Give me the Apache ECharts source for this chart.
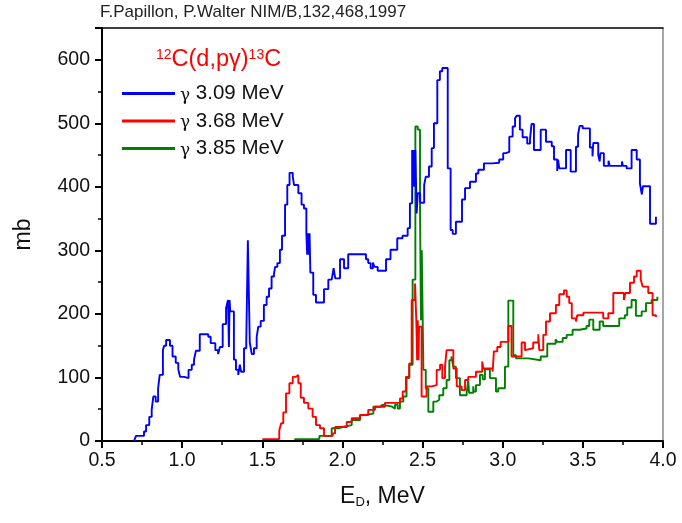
<!DOCTYPE html>
<html>
<head>
<meta charset="utf-8">
<script src="https://cdn.jsdelivr.net/npm/echarts@6/dist/echarts.min.js"></script>
<style>
  html, body { margin: 0; padding: 0; background: #fff; }
  #chart { width: 682px; height: 523px; }
</style>
</head>
<body>
<div id="chart"></div>
<script>
// Gamma-ray yields for 12C(d,p gamma)13C, step histograms (E_D in MeV, yield in mb)
const seriesNames = ['γ 3.09 MeV', 'γ 3.68 MeV', 'γ 3.85 MeV'];

const blueE = [0.70,0.712,0.762,0.775,0.795,0.81,0.82,0.835,0.85,0.86,0.88,0.887,0.90,0.924,0.94,0.96,0.976,0.987,1.013,1.04,1.06,1.074,1.086,1.11,1.163,1.178,1.207,1.224,1.236,1.253,1.274,1.286,1.292,1.296,1.30,1.323,1.336,1.35,1.36,1.368,1.386,1.40,1.41,1.422,1.434,1.448,1.465,1.475,1.49,1.51,1.527,1.542,1.558,1.573,1.58,1.594,1.61,1.623,1.642,1.656,1.670,1.69,1.698,1.725,1.745,1.76,1.775,1.78,1.785,1.79,1.795,1.80,1.818,1.835,1.885,1.912,1.933,1.945,1.955,1.985,2.01,2.036,2.147,2.161,2.176,2.19,2.20,2.22,2.272,2.30,2.342,2.375,2.407,2.421,2.435,2.44,2.445,2.45,2.455,2.463,2.47,2.485,2.51,2.52,2.54,2.557,2.571,2.592,2.608,2.623,2.657,2.675,2.688,2.708,2.746,2.765,2.796,2.833,2.848,2.883,2.937,2.978,3.003,3.02,3.041,3.062,3.077,3.087,3.107,3.124,3.153,3.17,3.18,3.195,3.237,3.27,3.306,3.32,3.34,3.345,3.353,3.395,3.424,3.457,3.47,3.48,3.499,3.544,3.56,3.565,3.596,3.605,3.61,3.631,3.66,3.668,3.744,3.75,3.773,3.804,3.836,3.856,3.868,3.875,3.919,3.956];
const blueMb = [0,8,15,25,38,49,70,62,83,104,143,150,159,150,133,123,113,101,99,112,120,128,142,168,164,154,143,137,148,184,209,222,148,222,204,128,112,104,120,109,146,155,316,155,137,146,164,180,189,214,227,240,259,263,274,280,301,323,372,403,422,416,403,390,372,366,327,293,327,293,327,265,230,218,239,254,256,272,256,286,272,294,286,280,272,281,274,268,286,301,319,323,335,374,458,400,458,400,458,358,390,375,403,416,432,461,500,568,582,587,429,332,326,345,380,398,408,421,427,437,438,443,453,455,479,495,508,512,490,478,468,474,499,458,490,471,464,443,425,443,429,458,424,463,482,496,492,462,448,469,450,440,453,433,441,433,440,433,429,458,443,405,388,401,342,353];

const redE = [1.50,1.606,1.618,1.631,1.648,1.669,1.69,1.71,1.725,1.74,1.76,1.787,1.814,1.835,1.86,1.885,1.939,1.954,2.027,2.058,2.11,2.161,2.203,2.265,2.328,2.359,2.376,2.396,2.417,2.432,2.453,2.462,2.466,2.470,2.474,2.478,2.494,2.525,2.557,2.588,2.609,2.623,2.64,2.65,2.692,2.713,2.744,2.765,2.785,2.833,2.872,2.88,2.937,2.945,2.966,2.987,3.035,3.055,3.118,3.139,3.15,3.19,3.222,3.228,3.253,3.27,3.295,3.332,3.353,3.382,3.399,3.415,3.431,3.457,3.465,3.503,3.627,3.659,3.69,3.756,3.765,3.794,3.819,3.836,3.861,3.873,3.908,3.935,3.956];
const redMb = [3,17,28,45,75,91,101,104,91,68,60,51,38,25,20,8,12,22,30,36,41,49,54,60,60,67,78,101,122,222,248,180,127,190,127,180,70,86,88,112,120,99,117,143,114,86,80,96,101,109,125,114,109,141,148,156,181,133,155,143,146,155,168,143,167,188,201,214,231,237,227,217,193,188,198,202,193,201,233,222,233,249,259,268,254,243,233,198,195];

const greenE = [1.70,1.856,1.933,1.975,2.0,2.058,2.11,2.141,2.193,2.234,2.25,2.31,2.328,2.345,2.359,2.38,2.40,2.417,2.438,2.455,2.47,2.484,2.49,2.495,2.505,2.52,2.536,2.567,2.588,2.604,2.629,2.65,2.667,2.68,2.692,2.708,2.733,2.775,2.785,2.79,2.816,2.82,2.833,2.858,2.875,2.889,2.92,2.958,2.972,3.014,3.035,3.066,3.083,3.16,3.237,3.278,3.33,3.34,3.374,3.399,3.436,3.48,3.523,3.54,3.565,3.605,3.627,3.727,3.762,3.777,3.804,3.831,3.867,3.894,3.929,3.965];
const greenMb = [3,8,20,22,25,33,41,43,54,57,54,51,57,51,62,70,99,120,254,495,490,366,190,300,112,83,46,62,65,72,83,96,127,133,117,99,72,76,95,76,86,78,88,104,97,113,99,78,83,117,221,135,130,127,133,153,160,156,162,167,175,177,181,191,175,188,181,193,198,210,222,197,204,217,222,227];

const xTicks = { min: 0.5, max: 4.0, step: 0.5 };
const yTicks = { min: 0, max: 650, step: 100 };

const colors = ['#0000ff', '#ff0000', '#008000'];
const seriesData = [
  blueE.map((e, i) => [e, blueMb[i]]),
  redE.map((e, i) => [e, redMb[i]]),
  greenE.map((e, i) => [e, greenMb[i]])
];

const FONT = '"Liberation Sans", Arial, sans-serif';
const chart = echarts.init(document.getElementById('chart'), null, { renderer: 'canvas' });

chart.setOption({
  animation: false,
  backgroundColor: '#ffffff',
  grid: { left: 102, right: 19, top: 28, bottom: 82, show: false },
  title: {
    text: 'F.Papillon, P.Walter NIM/B,132,468,1997',
    left: 100, top: 4, padding: 0,
    textStyle: { fontFamily: FONT, fontSize: 17, fontWeight: 'normal', color: '#222' }
  },
  graphic: [{
    type: 'text',
    left: 156, top: 48,
    style: {
      text: '{s|12}{b|C(d,pγ)}{s|13}{b|C}',
      rich: {
        s: { fontFamily: FONT, fontSize: 14, fill: '#ff0000', verticalAlign: 'top', padding: [0, 0, 10, 0] },
        b: { fontFamily: FONT, fontSize: 23.5, fill: '#ff0000' }
      }
    }
  }],
  legend: {
    orient: 'vertical',
    left: 122, top: 83,
    padding: 0,
    itemGap: 6.5,
    itemWidth: 53,
    itemHeight: 3,
    icon: 'rect',
    data: seriesNames,
    formatter: (name) => '{g|γ}{t|' + name.slice(1) + '}',
    textStyle: {
      fontFamily: FONT, fontSize: 20.5, color: '#111',
      rich: {
        g: { fontFamily: '"DejaVu Serif", serif', fontSize: 17, color: '#111', padding: [4, 0, 0, 0] },
        t: { fontFamily: FONT, fontSize: 20.5, color: '#111' }
      }
    }
  },
  xAxis: [{
    type: 'value',
    min: xTicks.min, max: xTicks.max, interval: xTicks.step,
    name: '{a|E}{b|D}{a|, MeV}',
    nameLocation: 'middle',
    nameGap: 43,
    nameTextStyle: {
      rich: {
        a: { fontFamily: FONT, fontSize: 23, color: '#111' },
        b: { fontFamily: FONT, fontSize: 13, color: '#111', verticalAlign: 'bottom', padding: [12, 0, 0, 0] }
      }
    },
    axisLine: { show: true, onZero: false, lineStyle: { color: '#000', width: 2 } },
    axisTick: { show: true, inside: false, length: 7, lineStyle: { color: '#000', width: 2 } },
    minorTick: { show: true, splitNumber: 2, length: 4, lineStyle: { color: '#000', width: 1.5 } },
    splitLine: { show: false },
    axisLabel: {
      margin: 10, fontFamily: FONT, fontSize: 19.5, color: '#111',
      formatter: (v) => v.toFixed(1)
    }
  }, {
    type: 'value', position: 'top',
    min: xTicks.min, max: xTicks.max,
    axisLine: { show: true, onZero: false, lineStyle: { color: '#000', width: 1.5 } },
    axisTick: { show: false }, axisLabel: { show: false }, splitLine: { show: false }
  }],
  yAxis: [{
    type: 'value',
    min: yTicks.min, max: yTicks.max, interval: yTicks.step,
    name: 'mb',
    nameLocation: 'middle',
    nameGap: 67,
    nameTextStyle: { fontFamily: FONT, fontSize: 23, color: '#111' },
    axisLine: { show: true, onZero: false, lineStyle: { color: '#000', width: 2 } },
    axisTick: { show: true, inside: false, length: 7, lineStyle: { color: '#000', width: 2 } },
    minorTick: { show: true, splitNumber: 2, length: 4, lineStyle: { color: '#000', width: 1.5 } },
    splitLine: { show: false },
    axisLabel: { margin: 12, fontFamily: FONT, fontSize: 19.5, color: '#111', showMaxLabel: false }
  }, {
    type: 'value', position: 'right',
    min: yTicks.min, max: yTicks.max,
    axisLine: { show: true, onZero: false, lineStyle: { color: '#888', width: 1.5 } },
    axisTick: { show: false }, axisLabel: { show: false }, splitLine: { show: false }
  }],
  series: seriesNames.map((name, i) => ({
    name,
    type: 'line',
    step: 'end',
    data: seriesData[i],
    showSymbol: false,
    symbol: 'none',
    color: colors[i],
    lineStyle: { color: colors[i], width: 1.9 },
    z: 3 - i + 2
  }))
});
</script>
</body>
</html>
